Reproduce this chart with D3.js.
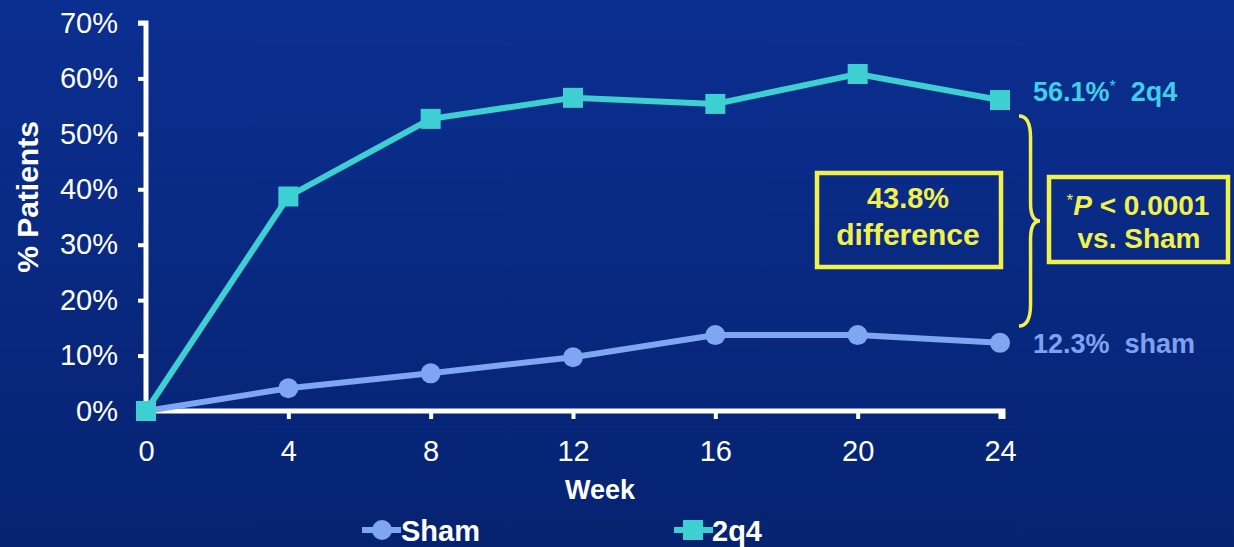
<!DOCTYPE html>
<html>
<head>
<meta charset="utf-8">
<script src="https://cdn.jsdelivr.net/npm/d3@7"></script>
<style>
  html, body { margin: 0; padding: 0; background: #082a85; }
  svg { display: block; }
  text { font-family: "Liberation Sans", Arial, sans-serif; }
</style>
</head>
<body>
<svg id="chart" width="1234" height="547"></svg>
<script>
// Weeks of follow-up and % of patients per arm
const weeks = [0, 4, 8, 12, 16, 20, 24];
const sham = [0, 4.1, 6.8, 9.7, 13.7, 13.7, 12.3];
const arm2q4 = [0, 38.7, 52.7, 56.5, 55.4, 60.8, 56.1];
const yTicks = [0, 10, 20, 30, 40, 50, 60, 70];
const xTicks = [0, 4, 8, 12, 16, 20, 24];

const W = 1234, H = 547;
const svg = d3.select("#chart");

// Background gradient
const defs = svg.append("defs");
const grad = defs.append("linearGradient").attr("id", "bg").attr("x1", 0).attr("y1", 0).attr("x2", 0).attr("y2", 1);
grad.append("stop").attr("offset", "0%").attr("stop-color", "#0b2f91");
grad.append("stop").attr("offset", "100%").attr("stop-color", "#062371");
svg.append("rect").attr("width", W).attr("height", H).attr("fill", "url(#bg)");

const x = d3.scaleLinear().domain([0, 24]).range([146, 1000]);
const y = d3.scaleLinear().domain([0, 70]).range([411, 23]);

const shamColor = "#7fa6f0";
const q4Color = "#3ecfd2";
const yellow = "#f2f04a";

// Axes
const yAxis = svg.append("g").attr("transform", "translate(146,0)")
  .call(d3.axisLeft(y).tickValues(yTicks).tickFormat(d => d + "%").tickSize(8).tickPadding(20));
const xAxis = svg.append("g").attr("transform", "translate(0,411)")
  .call(d3.axisBottom(x).tickValues(xTicks).tickSize(8).tickPadding(21));
[yAxis, xAxis].forEach(a => {
  a.select(".domain").attr("stroke", "#ffffff").attr("stroke-width", 5);
  a.selectAll(".tick line").attr("stroke", "#ffffff").attr("stroke-width", 4);
  a.selectAll(".tick text").attr("fill", "#ffffff").attr("font-size", 29)
    .attr("font-family", "'Liberation Sans', Arial, sans-serif");
});
yAxis.select(".domain").attr("d", "M-8,23H0V411");
xAxis.select(".domain").attr("d", "M146,0H1003V8");

// Axis titles
svg.append("text").attr("transform", "translate(38,197) rotate(-90)")
  .attr("text-anchor", "middle").attr("fill", "#fff").attr("font-size", 30).attr("font-weight", "bold")
  .text("% Patients");
svg.append("text").attr("x", 600).attr("y", 499).attr("text-anchor", "middle")
  .attr("fill", "#fff").attr("font-size", 27).attr("font-weight", "bold").text("Week");

// Series
const line = d3.line().x(d => x(d[0])).y(d => y(d[1]));
const shamPts = weeks.map((w, i) => [w, sham[i]]);
const q4Pts = weeks.map((w, i) => [w, arm2q4[i]]);

svg.append("path").datum(shamPts).attr("d", line).attr("fill", "none")
  .attr("stroke", shamColor).attr("stroke-width", 6);
svg.selectAll("circle.sham").data(shamPts).join("circle").attr("class", "sham")
  .attr("cx", d => x(d[0])).attr("cy", d => y(d[1])).attr("r", 10).attr("fill", shamColor);

svg.append("path").datum(q4Pts).attr("d", line).attr("fill", "none")
  .attr("stroke", q4Color).attr("stroke-width", 6);
svg.selectAll("rect.q4").data(q4Pts).join("rect").attr("class", "q4")
  .attr("x", d => x(d[0]) - 10).attr("y", d => y(d[1]) - 10).attr("width", 20).attr("height", 20)
  .attr("fill", q4Color);

// End-of-study labels
svg.append("text").attr("x", 1033).attr("y", 101).attr("fill", "#3fd0e8").attr("font-size", 27)
  .attr("font-weight", "bold").attr("xml:space", "preserve")
  .html('56.1%<tspan dy="-9" font-size="16" font-weight="normal">*</tspan><tspan dy="9">  </tspan>2q4');
svg.append("text").attr("x", 1033).attr("y", 353).attr("fill", "#7ea2f0").attr("font-size", 27)
  .attr("font-weight", "bold").attr("xml:space", "preserve").text("12.3%  sham");

// Brace spanning the gap between arms
const bx = 1019, bTop = 116, bBot = 326, bMid = 221, bw = 21;
const bv = bx + bw * 0.55;
svg.append("path").attr("fill", "none").attr("stroke", yellow).attr("stroke-width", 3.5)
  .attr("d", `M${bx},${bTop} Q${bv},${bTop} ${bv},${bTop + 22}
    L${bv},${bMid - 18} Q${bv},${bMid} ${bx + bw},${bMid}
    Q${bv},${bMid} ${bv},${bMid + 18}
    L${bv},${bBot - 22} Q${bv},${bBot} ${bx},${bBot}`);

// Annotation boxes
svg.append("rect").attr("x", 817).attr("y", 173).attr("width", 184).attr("height", 94)
  .attr("fill", "none").attr("stroke", yellow).attr("stroke-width", 4.5);
svg.append("text").attr("x", 908).attr("y", 208).attr("text-anchor", "middle").attr("fill", yellow)
  .attr("font-size", 29).attr("font-weight", "bold").text((arm2q4[6] - sham[6]).toFixed(1) + "%");
svg.append("text").attr("x", 908).attr("y", 245).attr("text-anchor", "middle").attr("fill", yellow)
  .attr("font-size", 30).attr("font-weight", "bold").text("difference");

svg.append("rect").attr("x", 1049).attr("y", 177).attr("width", 179).attr("height", 85)
  .attr("fill", "none").attr("stroke", yellow).attr("stroke-width", 4.5);
svg.append("text").attr("x", 1138).attr("y", 215).attr("text-anchor", "middle").attr("fill", yellow)
  .attr("font-size", 28).attr("font-weight", "bold")
  .html('<tspan font-size="17" dy="-9" font-weight="normal">*</tspan><tspan dy="9" font-style="italic">P</tspan> &lt; 0.0001');
svg.append("text").attr("x", 1139).attr("y", 248).attr("text-anchor", "middle").attr("fill", yellow)
  .attr("font-size", 28).attr("font-weight", "bold").text("vs. Sham");

// Legend
const lg = svg.append("g");
lg.append("line").attr("x1", 362).attr("x2", 401).attr("y1", 530).attr("y2", 530)
  .attr("stroke", shamColor).attr("stroke-width", 6);
lg.append("circle").attr("cx", 382).attr("cy", 530).attr("r", 10).attr("fill", shamColor);
lg.append("text").attr("x", 401).attr("y", 541).attr("fill", "#fff").attr("font-size", 29)
  .attr("font-weight", "bold").text("Sham");
lg.append("line").attr("x1", 674).attr("x2", 713).attr("y1", 530).attr("y2", 530)
  .attr("stroke", q4Color).attr("stroke-width", 6);
lg.append("rect").attr("x", 683).attr("y", 520).attr("width", 20).attr("height", 20).attr("fill", q4Color);
lg.append("text").attr("x", 712).attr("y", 541).attr("fill", "#fff").attr("font-size", 29)
  .attr("font-weight", "bold").text("2q4");
</script>
</body>
</html>
